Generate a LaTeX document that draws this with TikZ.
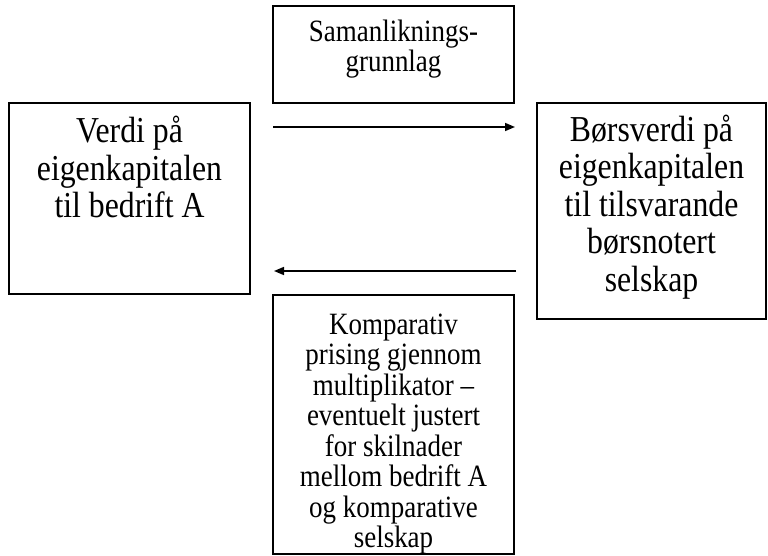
\documentclass[tikz,border=0pt]{standalone}
\usepackage{fontspec}
\setmainfont{Liberation Serif}
\newfontfamily\tallfont[FakeStretch=0.87]{Liberation Serif}
\usetikzlibrary{arrows.meta}
\tikzset{
  frame/.style={draw=black, line width=1.5pt, inner sep=0pt},
  bigtxt/.style={align=center, inner sep=0pt, font=\tallfont\fontsize{36.5}{37.5}\selectfont},
  smalltxt/.style={align=center, inner sep=0pt, font=\tallfont\fontsize{31}{30.5}\selectfont},
  link/.style={line width=1.5pt, -{Triangle[length=10pt,width=8pt]}}
}
\begin{document}
\begin{tikzpicture}[x=1pt,y=-1pt]
\useasboundingbox (0,0) rectangle (768,556);
% boxes
\node[frame, minimum width=241pt, minimum height=191pt] (L) at (129.5,198.5) {};
\node[frame, minimum width=241pt, minimum height=97pt] (T) at (393.5,54.5) {};
\node[frame, minimum width=229pt, minimum height=216pt] (R) at (651.5,211) {};
\node[frame, minimum width=241pt, minimum height=259pt] (B) at (393.5,424.5) {};
% texts
\node[bigtxt] (Lt) at (129.5,167) {Verdi på\\eigenkapitalen\\til bedrift A};
\node[smalltxt] (Tt) at (393.5,49) {Samanliknings-\\grunnlag};
\node[bigtxt] (Rt) at (651.5,207) {Børsverdi på\\eigenkapitalen\\til tilsvarande\\børsnotert\\selskap};
\node[smalltxt] (Bt) at (393.5,434) {Komparativ\\prising gjennom\\multiplikator –\\eventuelt justert\\for skilnader\\mellom bedrift A\\og komparative\\selskap};
% arrows
\coordinate (a1) at (273,127);
\coordinate (a2) at (515,127);
\coordinate (b1) at (516,271);
\coordinate (b2) at (274,271);
\draw[link] (a1) -- (a2);
\draw[link] (b1) -- (b2);
\end{tikzpicture}
\end{document}
